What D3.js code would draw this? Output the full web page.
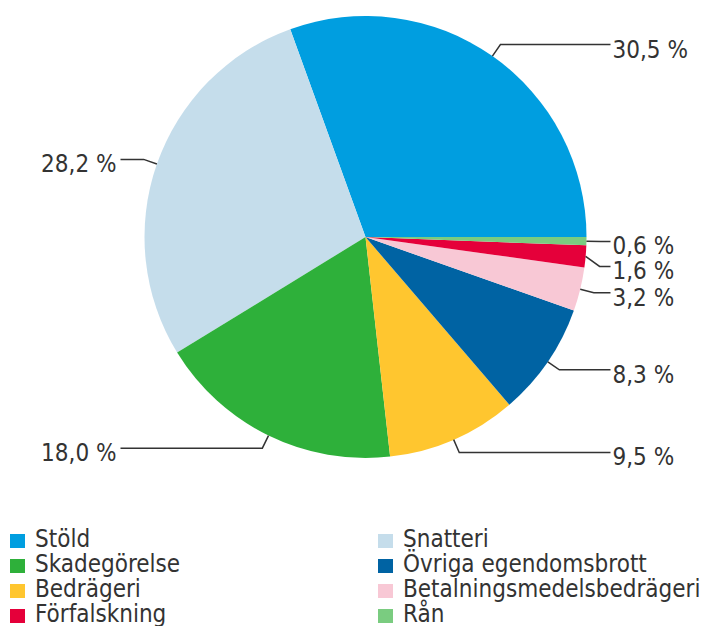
<!DOCTYPE html>
<html>
<head>
<meta charset="utf-8">
<script src="https://cdn.jsdelivr.net/npm/d3@7"></script>
<style>
  body { margin: 0; background: #fff; }
  svg { display: block; }
</style>
</head>
<body>
<script>
// data
var categories = ["Stöld", "Snatteri", "Skadegörelse", "Bedrägeri", "Övriga egendomsbrott", "Betalningsmedelsbedrägeri", "Förfalskning", "Rån"];
var shares = [30.5, 28.2, 18.0, 9.5, 8.3, 3.2, 1.6, 0.6];
var labels = ["30,5 %", "28,2 %", "18,0 %", "9,5 %", "8,3 %", "3,2 %", "1,6 %", "0,6 %"];
var colors = ["#009ee0", "#c5ddeb", "#2eb03a", "#ffc62f", "#0063a3", "#f8c8d5", "#e5003a", "#7acc80"];
// legend goes row by row in two columns
var legendOrder = ["Stöld", "Snatteri", "Skadegörelse", "Övriga egendomsbrott", "Bedrägeri", "Betalningsmedelsbedrägeri", "Förfalskning", "Rån"];

var width = 714;
var height = 626;
var cx = 365.5;
var cy = 237;
var radius = 221;
var font = "'DejaVu Sans Condensed', 'DejaVu Sans', sans-serif";

var svg = d3.select("body").append("svg")
    .attr("width", width)
    .attr("height", height);

var color = d3.scaleOrdinal().domain(categories).range(colors);

// pie starts at 3 o'clock and goes counter clockwise
var pie = d3.pie()
    .sort(null)
    .value(function(d) { return d; })
    .startAngle(Math.PI / 2)
    .endAngle(Math.PI / 2 - 2 * Math.PI);

var arc = d3.arc().innerRadius(0).outerRadius(radius);

var arcs = pie(shares);

var chart = svg.append("g")
    .attr("transform", "translate(" + cx + "," + cy + ")");

chart.selectAll("path.slice")
    .data(arcs)
    .enter().append("path")
    .attr("class", "slice")
    .attr("d", arc)
    .attr("fill", function(d, i) { return color(categories[i]); });

// label positions
var items = arcs.map(function(d, i) {
  var m = (d.startAngle + d.endAngle) / 2;
  return {
    i: i,
    right: Math.sin(m) > 0,
    ex: radius * Math.sin(m),
    ey: -radius * Math.cos(m),
    bx: (radius + 14) * Math.sin(m),
    y: -(radius + 14) * Math.cos(m)
  };
});

// push labels apart on each side
function spread(list) {
  list.sort(function(a, b) { return a.y - b.y; });
  for (var k = 1; k < list.length; k++) {
    if (list[k].y - list[k - 1].y < 25) list[k].y = list[k - 1].y + 25;
  }
}
spread(items.filter(function(d) { return d.right; }));
spread(items.filter(function(d) { return !d.right; }));

var lbl = chart.selectAll("g.lbl")
    .data(items)
    .enter().append("g")
    .attr("class", "lbl");

lbl.append("path")
    .attr("d", function(d) {
      var endX = d.right ? radius + 24 : -(radius + 24);
      return "M" + d.ex + "," + d.ey + "L" + d.bx + "," + d.y + "L" + endX + "," + d.y;
    })
    .attr("fill", "none")
    .attr("stroke", "#333")
    .attr("stroke-width", 1.5);

lbl.append("text")
    .attr("x", function(d) { return d.right ? radius + 26 : -(radius + 28); })
    .attr("y", function(d) { return d.y + 13; })
    .attr("text-anchor", function(d) { return d.right ? "start" : "end"; })
    .attr("font-family", font)
    .attr("font-size", "24px")
    .attr("fill", "#333")
    .text(function(d) { return labels[d.i]; });

// legend
var legend = svg.append("g");

var entry = legend.selectAll("g")
    .data(legendOrder)
    .enter().append("g")
    .attr("transform", function(d, i) {
      return "translate(" + (10 + (i % 2) * 368) + "," + (541 + Math.floor(i / 2) * 25) + ")";
    });

entry.append("rect")
    .attr("x", 0)
    .attr("y", -7)
    .attr("width", 15)
    .attr("height", 14)
    .attr("fill", function(d) { return color(d); });

entry.append("text")
    .attr("x", 25)
    .attr("y", 6)
    .attr("font-family", font)
    .attr("font-size", "24px")
    .attr("fill", "#333")
    .text(function(d) { return d; });
</script>
</body>
</html>
